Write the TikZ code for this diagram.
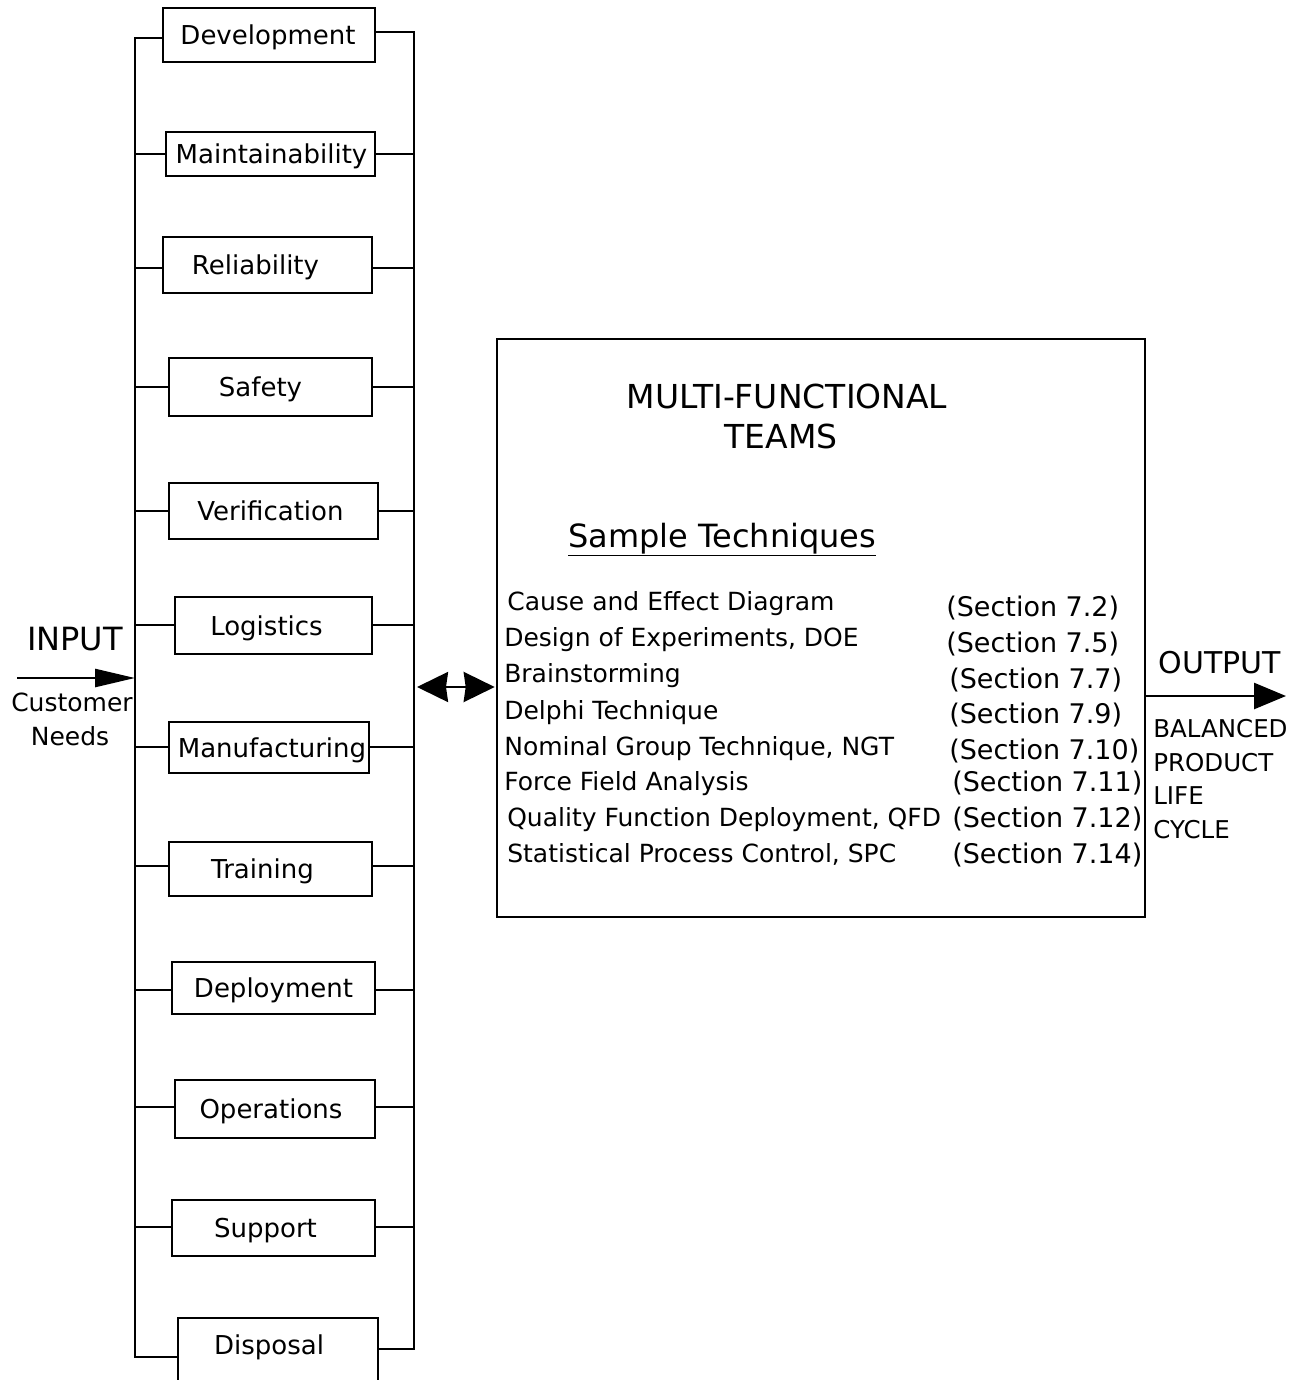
\documentclass[tikz,border=0pt]{standalone}
\usepackage{fontspec}
\setmainfont{DejaVu Sans}
\usetikzlibrary{arrows.meta}
\newcommand\shiftx[2]{\hspace*{#1pt}#2\hspace*{-#1pt}}
\begin{document}
\begin{tikzpicture}[x=1pt,y=-1pt,line width=2.6pt,
  fbox/.style={draw,inner sep=0pt,text height=19pt,text depth=0pt,
    font=\fontsize{26}{30}\selectfont},
  tech/.style={anchor=base west,inner sep=0pt,font=\fontsize{25}{30}\selectfont},
  sect/.style={anchor=base west,inner sep=0pt,font=\fontsize{27}{32}\selectfont},
  big/.style={anchor=base,inner sep=0pt,font=\fontsize{32}{38}\selectfont},
  side/.style={anchor=base,inner sep=0pt,font=\fontsize{25}{30}\selectfont},
  outtxt/.style={anchor=base west,inner sep=0pt,font=\fontsize{24.5}{30}\selectfont}]
\useasboundingbox (0,0) rectangle (1294,1380);

% functional boxes and their stubs
\foreach \n/\cx/\cy/\w/\h/\dx/\t/\yl/\yr in {
  dev/269/35/212/54/-1/Development/38/32,
  maint/270.5/154/209/44/1/Maintainability/154/154,
  rel/267.5/265/209/56/-12/Reliability/268/268,
  saf/270.5/387/203/58/-10/Safety/387/387,
  ver/273.5/511/209/56/-3/Verification/511/511,
  log/273.5/625.5/197/57/-7/Logistics/625/625,
  man/269/747.5/200/51/3/Manufacturing/747/747,
  tra/270.5/869/203/54/-8/Training/866/866,
  dep/273.5/988/203/52/0/Deployment/990/990,
  ope/275/1109/200/58/-4/Operations/1107/1107,
  sup/273.5/1228/203/56/-8/Support/1227/1227}
{
  \node[fbox,minimum width=\w pt,minimum height=\h pt] (\n) at (\cx,\cy) {\shiftx{\dx}{\t}};
  \coordinate (L\n) at (135,\yl);
  \coordinate (R\n) at (414,\yr);
}
\node[fbox,minimum width=200pt,minimum height=82pt] (disp) at (278,1359)
  {\raisebox{14pt}{\shiftx{-9}{Disposal}}};
\coordinate (Ldisp) at (135,1357);
\coordinate (Rdisp) at (414,1349);

\draw (dev.west |- Ldev) -- (Ldev) -- (Ldisp) -- (Ldisp -| disp.west);
\draw (dev.east |- Rdev) -- (Rdev) -- (Rdisp) -- (Rdisp -| disp.east);
\foreach \n in {maint,rel,saf,ver,log,man,tra,dep,ope,sup}{
  \draw (L\n) -- (L\n -| \n.west);
  \draw (R\n) -- (R\n -| \n.east);
}

% input
\coordinate (inS) at (17,678);
\draw[-{Triangle[length=40pt,width=18pt]}] (inS) -- (inS -| Ldev);
\node[big] (input) at (75,650) {INPUT};
\node[side] (cust) at (72,711) {Customer};
\node[side] (needs) at (70,745) {Needs};

% main box
\node[draw,minimum width=648pt,minimum height=578pt,inner sep=0pt] (team) at (821,628) {};
\node[big,font=\fontsize{33}{38}\selectfont] (mft) at (787,408) {MULTI-FUNCTIONAL};
\node[big,font=\fontsize{33}{38}\selectfont] (teams) at (781,448) {TEAMS};
\node[anchor=base west,inner sep=0pt,font=\fontsize{32}{38}\selectfont] (samp) at (567,547) {\underline{Sample Techniques}};

\node[tech] (t1) at (506,610) {Cause and Effect Diagram};
\node[tech] (t2) at (503,646) {Design of Experiments, DOE};
\node[tech] (t3) at (503,682) {Brainstorming};
\node[tech] (t4) at (503,719) {Delphi Technique};
\node[tech] (t5) at (503,755) {Nominal Group Technique, NGT};
\node[tech] (t6) at (503,790) {Force Field Analysis};
\node[tech] (t7) at (506,826) {Quality Function Deployment, QFD};
\node[tech] (t8) at (506,862) {Statistical Process Control, SPC};

\node[sect] (s1) at (945,616) {(Section 7.2)};
\node[sect] (s2) at (945,652) {(Section 7.5)};
\node[sect] (s3) at (948,688) {(Section 7.7)};
\node[sect] (s4) at (948,723) {(Section 7.9)};
\node[sect] (s5) at (948,759) {(Section 7.10)};
\node[sect] (s6) at (951,791) {(Section 7.11)};
\node[sect] (s7) at (951,827) {(Section 7.12)};
\node[sect] (s8) at (951,863) {(Section 7.14)};

% double arrow
\coordinate (da) at (417,687);
\draw[{Stealth[length=31pt,width=30pt,inset=2pt]}-{Stealth[length=31pt,width=30pt,inset=2pt]},shorten >=1pt]
  (da) -- (da -| team.west);

% output
\coordinate (oe) at (1286,696);
\draw[-{Triangle[length=32pt,width=26pt]}] (oe -| team.east) -- (oe);
\node[anchor=base,inner sep=0pt,font=\fontsize{30}{36}\selectfont] (output) at (1220,673) {OUTPUT};
\node[outtxt] (o1) at (1152,737) {BALANCED};
\node[outtxt] (o2) at (1152,771) {PRODUCT};
\node[outtxt] (o3) at (1152,804) {LIFE};
\node[outtxt] (o4) at (1152,838) {CYCLE};
\end{tikzpicture}
\end{document}
